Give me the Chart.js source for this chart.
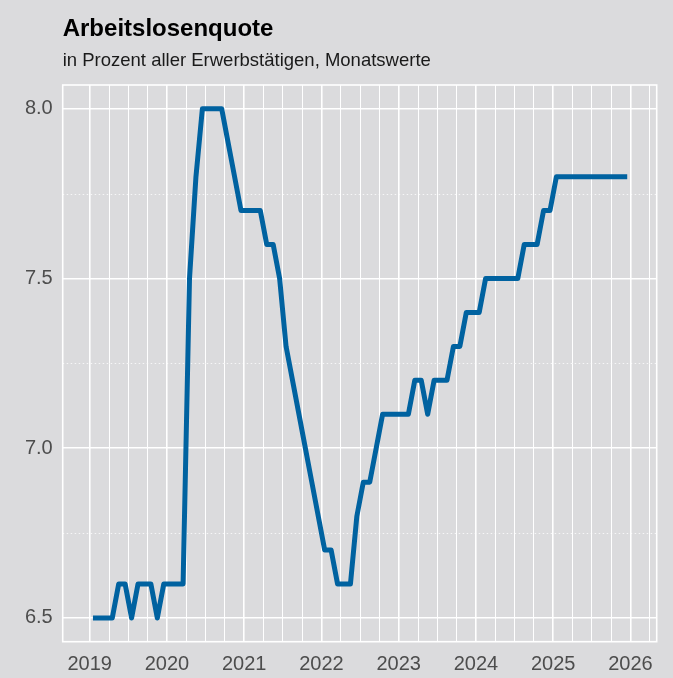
<!DOCTYPE html>
<html><head><meta charset="utf-8">
<script src="https://cdn.jsdelivr.net/npm/chart.js@4.4.1/dist/chart.umd.min.js"></script>
<style>
html,body{margin:0;padding:0;background:#dbdbdd;overflow:hidden}
#wrap{width:673px;height:678px;position:relative}
</style>
</head><body><div id="wrap"><canvas id="c" width="673" height="678"></canvas></div>
<script>
const chartTitle = 'Arbeitslosenquote';
const chartSubtitle = 'in Prozent aller Erwerbstätigen, Monatswerte';
const years = [2019, 2020, 2021, 2022, 2023, 2024, 2025];
const q2019 = [6.5, 6.5, 6.5, 6.5, 6.6, 6.6, 6.5, 6.6, 6.6, 6.6, 6.5, 6.6];
const q2020 = [6.6, 6.6, 6.6, 7.5, 7.8, 8.0, 8.0, 8.0, 8.0, 7.9, 7.8, 7.7];
const q2021 = [7.7, 7.7, 7.7, 7.6, 7.6, 7.5, 7.3, 7.2, 7.1, 7.0, 6.9, 6.8];
const q2022 = [6.7, 6.7, 6.6, 6.6, 6.6, 6.8, 6.9, 6.9, 7.0, 7.1, 7.1, 7.1];
const q2023 = [7.1, 7.1, 7.2, 7.2, 7.1, 7.2, 7.2, 7.2, 7.3, 7.3, 7.4, 7.4];
const q2024 = [7.4, 7.5, 7.5, 7.5, 7.5, 7.5, 7.5, 7.6, 7.6, 7.6, 7.7, 7.7];
const q2025 = [7.8, 7.8, 7.8, 7.8, 7.8, 7.8, 7.8, 7.8, 7.8, 7.8, 7.8, 7.8];
const yearTicks = [2019, 2020, 2021, 2022, 2023, 2024, 2025, 2026];
const yTicks = [6.5, 7.0, 7.5, 8.0];
const yMinorTicks = [6.75, 7.25, 7.75];

const series = [q2019, q2020, q2021, q2022, q2023, q2024, q2025];
const points = [];
series.forEach((arr, yi) => {
  arr.forEach((v, mi) => {
    points.push({ x: years[yi] + (mi + 0.5) / 12, y: v });
  });
});

// quarterly gridline positions between the year ticks
const xGrid = [];
yearTicks.forEach(y => { for (let q = 0; q < 4; q++) xGrid.push(y + q / 4); });
const xGridVals = xGrid.filter(v => v <= 2026.25);

const BG = '#dbdbdd';
const FONT = "'Liberation Sans', Arial, Helvetica, sans-serif";
Chart.defaults.font.family = FONT;

const bgPlugin = {
  id: 'bg',
  beforeDraw(chart) {
    const c = chart.ctx;
    c.save();
    c.fillStyle = BG;
    c.fillRect(0, 0, chart.width, chart.height);
    c.restore();
  }
};

const panelPlugin = {
  id: 'panel',
  beforeDatasetsDraw(chart) {
    const c = chart.ctx, a = chart.chartArea, ys = chart.scales.y;
    c.save();
    c.strokeStyle = 'rgba(255,255,255,0.75)';
    c.lineWidth = 1;
    c.setLineDash([1.5, 2.5]);
    yMinorTicks.forEach(v => {
      const p = Math.round(ys.getPixelForValue(v)) + 0.5;
      c.beginPath(); c.moveTo(a.left, p); c.lineTo(a.right, p); c.stroke();
    });
    c.setLineDash([]);
    c.strokeStyle = '#ffffff';
    c.lineWidth = 1.6;
    c.strokeRect(a.left, a.top, a.right - a.left, a.bottom - a.top);
    c.restore();
  }
};

const isInt = v => Math.abs(v - Math.round(v)) < 1e-6;

new Chart(document.getElementById('c'), {
  type: 'line',
  data: {
    datasets: [{
      data: points,
      borderColor: '#0062a0',
      borderWidth: 5,
      pointRadius: 0,
      tension: 0,
      borderCapStyle: 'butt',
      borderJoinStyle: 'round',
      fill: false
    }]
  },
  plugins: [bgPlugin, panelPlugin],
  options: {
    responsive: false,
    animation: false,
    devicePixelRatio: 1,
    layout: { padding: { left: 0, right: 16.3, top: 0, bottom: 0 } },
    plugins: {
      legend: { display: false },
      tooltip: { enabled: false },
      title: {
        display: true, text: chartTitle, align: 'start', fullSize: false,
        color: '#000000',
        font: { family: FONT, size: 24, weight: 'bold', lineHeight: 1.2 },
        padding: { top: 14.5, bottom: 0 }
      },
      subtitle: {
        display: true, text: chartSubtitle, align: 'start', fullSize: false,
        color: '#1a1a1a',
        font: { family: FONT, size: 18.5, weight: 'normal', lineHeight: 1.2 },
        padding: { top: 7, bottom: 12.5 }
      }
    },
    scales: {
      x: {
        type: 'linear',
        min: 2018.65,
        max: 2026.34,
        afterBuildTicks: s => { s.ticks = xGridVals.map(v => ({ value: v })); },
        afterFit: s => { s.height = 36.3; },
        ticks: {
          autoSkip: false, maxRotation: 0, minRotation: 0,
          color: '#4d4d4d', padding: 11,
          font: { family: FONT, size: 20 },
          callback: v => isInt(v) ? String(Math.round(v)) : ''
        },
        grid: {
          color: '#ffffff',
          lineWidth: ctx => (ctx.tick && isInt(ctx.tick.value)) ? 1.6 : 1,
          drawTicks: false
        },
        border: { display: false }
      },
      y: {
        type: 'linear',
        min: 6.43,
        max: 8.07,
        afterBuildTicks: s => { s.ticks = yTicks.map(v => ({ value: v })); },
        afterFit: s => { s.width = 62.7; },
        ticks: {
          color: '#4d4d4d', padding: 10,
          font: { family: FONT, size: 20 },
          callback: v => Number(v).toFixed(1)
        },
        grid: { color: '#ffffff', lineWidth: 1.6, drawTicks: false },
        border: { display: false }
      }
    }
  }
});
</script>
</body></html>
